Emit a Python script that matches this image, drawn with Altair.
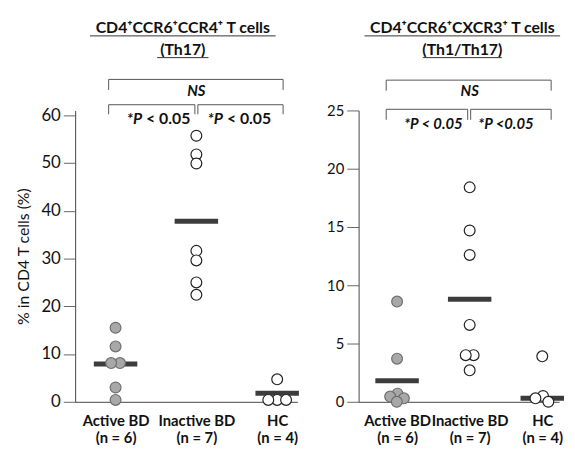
import altair as alt
import pandas as pd

# ---------------- data ----------------
groups = ["Active BD", "Inactive BD", "HC"]
group_n = [6, 7, 4]
group_filled = [True, False, False]

# Panel 1: CD4+CCR6+CCR4+ T cells (Th17), % in CD4 T cells
th17_active = [15.5, 11.6, 8.1, 8.1, 3.0, 0.4]
th17_inactive = [55.7, 51.8, 49.9, 31.6, 29.6, 25.0, 22.4]
th17_hc = [4.7, 0.4, 0.4, 0.4]
th17_bar = [7.9, 37.8, 1.8]

# Panel 2: CD4+CCR6+CXCR3+ T cells (Th1/Th17)
th1_active = [8.6, 3.7, 0.7, 0.45, 0.3, 0.0]
th1_inactive = [18.4, 14.7, 12.6, 6.6, 4.0, 4.0, 2.7]
th1_hc = [3.9, 0.5, 0.3, 0.0]
th1_bar = [1.8, 8.8, 0.3]

th17_ticks = [0, 10, 20, 30, 40, 50, 60]
th1_ticks = [0, 5, 10, 15, 20, 25]

FONT = "Lato"
H = 295
BAR_HALF = 22  # px
FILL_GRAY = "#a8a8a8"
STROKE_GRAY = "#6e6e6e"
INK = "#222222"
TITLE_BASE = -78   # px above plot top (alphabetic baseline of first title line)
TITLE_GAP = 22


def swarm_offsets(vals, px_y, diam):
    """simple beeswarm: horizontal pixel offsets so circles don't overlap much"""
    n = len(vals)
    offs = [0.0] * n
    placed = []
    order = sorted(range(n), key=lambda i: -vals[i])
    for i in order:
        y = vals[i] * px_y
        cands = [0.0]
        for (px, py) in placed:
            dy = abs(y - py)
            if dy < diam:
                dx = (diam ** 2 - dy ** 2) ** 0.5
                cands += [px + dx, px - dx]
        cands.sort(key=lambda c: (round(abs(c), 6), c))
        for c in cands:
            if all((c - px) ** 2 + (y - py) ** 2 >= diam ** 2 - 1e-6 for px, py in placed):
                offs[i] = c
                placed.append((c, y))
                break
    comp = list(range(n))

    def find(a):
        while comp[a] != a:
            a = comp[a]
        return a
    for a in range(n):
        for b in range(a + 1, n):
            d2 = (offs[a] - offs[b]) ** 2 + ((vals[a] - vals[b]) * px_y) ** 2
            if d2 < (diam + 0.5) ** 2:
                comp[find(a)] = find(b)
    clusters = {}
    for a in range(n):
        clusters.setdefault(find(a), []).append(a)
    for members in clusters.values():
        m = sum(offs[k] for k in members) / len(members)
        for k in members:
            offs[k] -= m
    return offs


def make_panel(group_vals, bar_vals, ydom, yticks, width, xdom, diam, ytitle,
               title_lines, title_x, ul_half, brackets, ns_text, p_texts,
               split_p, label_size):
    px_x = width / (xdom[1] - xdom[0])
    px_y = H / (ydom[1] - ydom[0])
    xs = alt.Scale(domain=xdom, nice=False, zero=False)
    ys = alt.Scale(domain=ydom, nice=False, zero=False)

    rows = []
    for gi, vals in enumerate(group_vals):
        offs = swarm_offsets(vals, px_y, diam)
        for v, o in zip(vals, offs):
            rows.append({"x": gi + 1 + o / px_x, "y": v,
                         "kind": "filled" if group_filled[gi] else "open"})
    pts = pd.DataFrame(rows)

    bars = pd.DataFrame({
        "x": [i + 1 - BAR_HALF / px_x for i in range(len(bar_vals))],
        "x2": [i + 1 + BAR_HALF / px_x for i in range(len(bar_vals))],
        "y": bar_vals,
    })

    label_expr = " : ".join(
        f"datum.value == {i + 1} ? ['{g}', '(n = {n})']" for i, (g, n) in enumerate(zip(groups, group_n))
    ) + " : ''"

    x_axis = alt.Axis(values=[1, 2, 3], labelExpr=label_expr, ticks=False, grid=False,
                      domainColor="#444", domainWidth=1, labelFont=FONT, labelFontWeight="bold",
                      labelFontSize=15, labelColor="#111", labelPadding=12, labelLineHeight=17,
                      labelBaseline="top", title=None)
    y_kw = dict(values=yticks, tickSize=12, tickColor="#666", tickWidth=1,
                domainColor="#444", domainWidth=1, grid=False, labelFont=FONT,
                labelFontSize=label_size, labelColor="#111", labelPadding=3,
                titleFont=FONT, titleFontSize=16, titleFontWeight="normal",
                titleColor="#111", titlePadding=10)
    if ytitle:
        y_axis = alt.Axis(title=ytitle, **y_kw)
    else:
        y_axis = alt.Axis(title=None, **y_kw)

    X = lambda f: alt.X(f, scale=xs, axis=x_axis)
    Y = lambda f: alt.Y(f, scale=ys, axis=y_axis)

    bar_layer = alt.Chart(bars).mark_rule(color="#3c3c3c", strokeWidth=5).encode(
        x=X("x:Q"), x2="x2:Q", y=Y("y:Q"),
    )

    pt_layer = alt.Chart(pts).mark_point(shape="circle", filled=False, size=120, strokeWidth=1.2,
                                         opacity=1).encode(
        x=X("x:Q"), y=Y("y:Q"),
        fill=alt.Fill("kind:N", scale=alt.Scale(domain=["filled", "open"], range=[FILL_GRAY, "white"]),
                      legend=None),
        stroke=alt.Stroke("kind:N", scale=alt.Scale(domain=["filled", "open"], range=[STROKE_GRAY, INK]),
                          legend=None),
    )

    segs = []
    for (g1, d1, g2, d2, ytop, yend) in brackets:
        xa = g1 + d1 / px_x
        xb = g2 + d2 / px_x
        segs.append({"x": xa, "x2": xb, "y": ytop, "y2": ytop})
        segs.append({"x": xa, "x2": xa, "y": ytop, "y2": yend})
        segs.append({"x": xb, "x2": xb, "y": ytop, "y2": yend})
    seg_df = pd.DataFrame(segs)
    br_layer = alt.Chart(seg_df).mark_rule(color="#555", strokeWidth=1).encode(
        x=X("x:Q"), x2="x2:Q", y=Y("y:Q"), y2="y2:Q",
    )

    ns_df = pd.DataFrame([{"x": ns_text[0], "y": ns_text[1], "t": "NS"}])
    ns_layer = alt.Chart(ns_df).mark_text(font=FONT, fontSize=15, fontWeight="bold", fontStyle="italic",
                                          color="#111", baseline="middle", align="center").encode(
        x=X("x:Q"), y=Y("y:Q"), text="t:N")

    layers = [bar_layer, pt_layer, br_layer, ns_layer]

    ptx = pd.DataFrame([{"x": gx, "y": gy, "t": t} for (gx, gy, t) in p_texts])
    if split_p:
        ptx["x"] = ptx["x"] - 14 / px_x
        ptx["a"] = "*P"
        ptx["b"] = ptx["t"].str.replace("*P ", "", regex=False)
        la = alt.Chart(ptx).mark_text(font=FONT, fontSize=16, fontWeight="bold", fontStyle="italic",
                                      color="#111", baseline="middle", align="right").encode(
            x=X("x:Q"), y=Y("y:Q"), text="a:N")
        lb = alt.Chart(ptx).mark_text(font=FONT, fontSize=16, fontWeight="bold", dx=4,
                                      color="#111", baseline="middle", align="left").encode(
            x=X("x:Q"), y=Y("y:Q"), text="b:N")
        layers += [la, lb]
    else:
        lt = alt.Chart(ptx).mark_text(font=FONT, fontSize=15, fontWeight="bold", fontStyle="italic",
                                      color="#111", baseline="middle", align="center").encode(
            x=X("x:Q"), y=Y("y:Q"), text="t:N")
        layers += [lt]

    for k, (txt, hw) in enumerate(zip(title_lines, ul_half)):
        base_y = TITLE_BASE + k * TITLE_GAP
        t = alt.Chart(pd.DataFrame({"t": [txt]})).mark_text(
            font=FONT, fontSize=16, fontWeight="bold", color="#111", align="center",
            baseline="alphabetic").encode(x=alt.value(title_x), y=alt.value(base_y), text="t:N")
        u = alt.Chart(pd.DataFrame({"t": [txt]})).mark_rule(color="#333", strokeWidth=1).encode(
            x=alt.value(title_x - hw), x2=alt.value(title_x + hw), y=alt.value(base_y + 2.5))
        layers += [t, u]

    return alt.layer(*layers).properties(width=width, height=H)


left = make_panel(
    [th17_active, th17_inactive, th17_hc], th17_bar, [0, 61], th17_ticks, 225, [0.5, 3.25], 9,
    "% in CD4 T cells (%)",
    ["CD4⁺CCR6⁺CCR4⁺ T cells", "(Th17)"], 109, [94, 26],
    [(1, -7, 3, 6, 67.5, 65.3), (1, -7, 2, -1.5, 62.2, 60.2), (2, 1.5, 3, 6, 62.2, 60.2)],
    (2.0, 65.1),
    [(1.5, 59.2, "*P < 0.05"), (2.5, 59.2, "*P < 0.05")],
    True, 17,
)

right = make_panel(
    [th1_active, th1_inactive, th1_hc], th1_bar, [0, 25], th1_ticks, 203, [0.47, 3.232], 8,
    None,
    ["CD4⁺CCR6⁺CXCR3⁺ T cells", "(Th1/Th17)"], 105, [99, 40],
    [(1, -11, 3, 9, 27.6, 26.7), (1, -11, 2, -2, 25.1, 24.2), (2, 1, 3, 9, 25.1, 24.2)],
    (2.0, 26.7),
    [(1.5, 23.8, "*P < 0.05"), (2.5, 23.8, "*P <0.05")],
    False, 15,
)

chart = alt.hconcat(left, right, spacing=24).properties(
    padding={"left": 7, "top": 10, "right": 0, "bottom": -3}
).configure_view(stroke=None)

chart.save("out.html", embed_options={"renderer": "svg", "actions": False})
